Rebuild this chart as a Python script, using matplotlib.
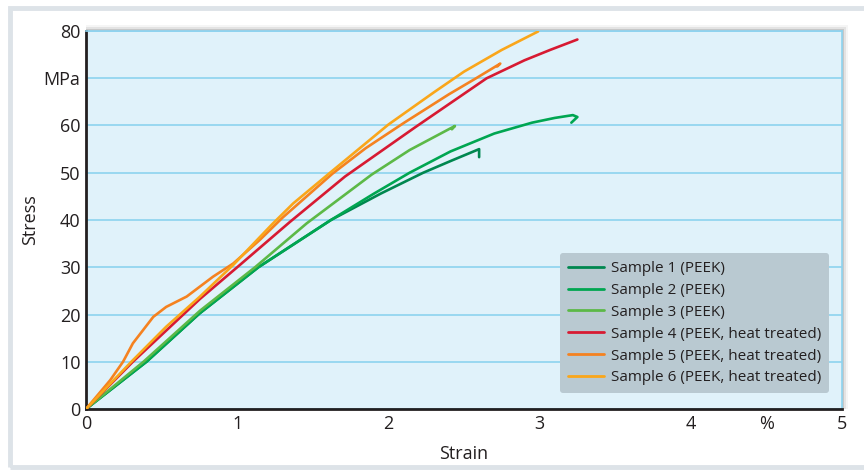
import matplotlib
matplotlib.use("Agg")
import matplotlib.pyplot as plt
from matplotlib.patches import Rectangle

# ---- data ----
s1_strain = [0, 0.40, 0.75, 1.14, 1.62, 1.95, 2.23, 2.42, 2.60, 2.60]
s1_stress = [0, 10.0, 20.2, 30.0, 40.0, 45.6, 50.0, 52.6, 55.0, 53.3]

s2_strain = [0, 0.40, 0.75, 1.14, 1.62, 1.90, 2.14, 2.41, 2.70, 2.95, 3.10, 3.22, 3.25, 3.21]
s2_stress = [0, 10.0, 20.2, 30.0, 40.0, 45.5, 50.0, 54.5, 58.3, 60.6, 61.6, 62.2, 61.8, 60.6]

s3_strain = [0, 0.38, 0.754, 1.118, 1.46, 1.889, 2.14, 2.44, 2.42]
s3_stress = [0, 10.0, 20.8, 30.0, 39.3, 49.6, 54.8, 59.9, 59.2]

s4_strain = [0, 0.31, 0.754, 1.00, 1.349, 1.713, 2.176, 2.65, 2.90, 3.07, 3.25]
s4_stress = [0, 10.0, 23.3, 30.0, 39.6, 49.2, 59.6, 70.0, 73.8, 76.0, 78.2]

s5_strain = [0, 0.16, 0.245, 0.31, 0.445, 0.53, 0.666, 0.84, 0.974, 1.15, 1.30, 1.63, 1.85, 2.10, 2.40, 2.58, 2.74, 2.72]
s5_stress = [0, 6.1, 10.0, 13.9, 19.5, 21.6, 23.8, 28.0, 30.8, 35.8, 40.5, 49.8, 55.2, 60.5, 66.6, 70.0, 73.1, 72.5]

s6_strain = [0, 0.30, 0.53, 0.754, 0.974, 1.228, 1.37, 1.614, 2.00, 2.30, 2.50, 2.75, 2.99]
s6_stress = [0, 10.0, 17.4, 23.8, 30.5, 39.0, 43.5, 50.0, 60.2, 67.0, 71.4, 76.0, 79.9]

labels = ["Sample 1 (PEEK)", "Sample 2 (PEEK)", "Sample 3 (PEEK)",
          "Sample 4 (PEEK, heat treated)", "Sample 5 (PEEK, heat treated)",
          "Sample 6 (PEEK, heat treated)"]
colors = ["#00874f", "#00a651", "#5cb947", "#d71a32", "#f58220", "#faa61a"]

x_ticks = [0, 1, 2, 3, 4, 4.5, 5]
x_ticklabels = ["0", "1", "2", "3", "4", "%", "5"]
y_ticks = [0, 10, 20, 30, 40, 50, 60, 70, 80]
y_ticklabels = ["0", "10", "20", "30", "40", "50", "60", "MPa", "80"]

plt.rcParams['font.family'] = ['Open Sans', 'DejaVu Sans']
txt = "#231f20"

fig = plt.figure(figsize=(8.64, 4.71), dpi=100)
fig.patch.set_facecolor("white")

# outer frame
fig.patches.append(Rectangle((9.5/864, 1 - 467/471), 870/864, (467 - 7.5)/471,
                             transform=fig.transFigure, fill=False,
                             edgecolor="#dde3e8", linewidth=3.5, zorder=-2))

L, R, B, T = 86/864, 842/864, 1 - 409/471, 1 - 31/471
# soft shadow behind the plot area
for i, a in enumerate([0.12, 0.07, 0.04]):
    d = (i + 1) * 2
    fig.patches.append(Rectangle((L, B), R - L + d/864, T - B + d/471,
                                 transform=fig.transFigure, facecolor="black",
                                 edgecolor="none", alpha=a, zorder=-1))

ax = fig.add_axes([L, B, R - L, T - B])
ax.set_zorder(2)
ax.set_facecolor("#e0f2fa")

series = [(s1_strain, s1_stress), (s2_strain, s2_stress), (s3_strain, s3_stress),
          (s4_strain, s4_stress), (s5_strain, s5_stress), (s6_strain, s6_stress)]
for (xs, ys), c, lab in zip(series, colors, labels):
    ax.plot(xs, ys, color=c, lw=1.9, label=lab, solid_capstyle="round",
            solid_joinstyle="round", zorder=3)

ax.set_xlim(0, 5)
ax.set_ylim(0, 80)
ax.set_xticks(x_ticks)
ax.set_xticklabels(x_ticklabels)
ax.set_yticks(y_ticks)
ax.set_yticklabels(y_ticklabels)
ax.tick_params(axis="both", length=0, labelsize=13, colors=txt, pad=4)
ax.set_xticks([1, 2, 3, 4], minor=True)
ax.tick_params(axis="x", which="minor", direction="in", length=6, width=1.2,
               color="#8dd3ef", bottom=True)
ax.yaxis.grid(True, color="#8dd3ef", lw=1.2, zorder=1)
ax.set_axisbelow(True)

for s in ["left", "bottom"]:
    ax.spines[s].set_color(txt)
    ax.spines[s].set_linewidth(2.0)
ax.spines["right"].set_color("#8dd3ef")
ax.spines["right"].set_linewidth(1.2)
ax.spines["top"].set_color("#8dd3ef")
ax.spines["top"].set_linewidth(1.2)

ax.set_xlabel("Strain", fontsize=13, color=txt, labelpad=9)
ax.set_ylabel("Stress", fontsize=13, color=txt, labelpad=3)

leg = ax.legend(loc="lower right", bbox_to_anchor=(0.993, 0.022), fontsize=11,
                frameon=True, fancybox=True, handlelength=2.4, handletextpad=0.45,
                labelspacing=0.45, borderpad=0.5, labelcolor=txt)
leg.get_frame().set_facecolor("#b9c9d1")
leg.get_frame().set_edgecolor("none")
leg.get_frame().set_alpha(1)
for h in leg.get_lines():
    h.set_linewidth(2.0)

fig.savefig("out.png", dpi=100, facecolor="white")
